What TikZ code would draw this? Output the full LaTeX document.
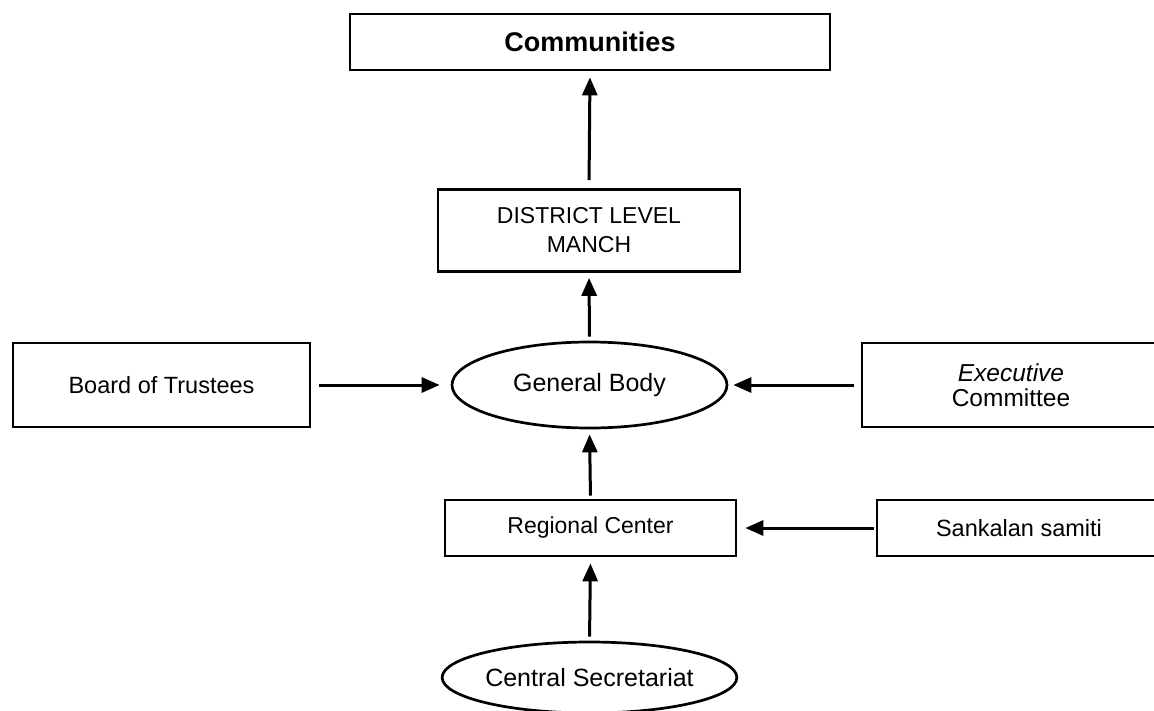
\documentclass[tikz,border=0pt]{standalone}
\usepackage{fontspec}
\setmainfont{Liberation Sans}
\usetikzlibrary{shapes.geometric,arrows.meta}
\tikzset{
  box/.style={draw, line width=2.7pt, inner sep=0pt, align=center, fill=white},
  oval/.style={draw, ellipse, line width=2.7pt, inner sep=0pt, align=center},
  link/.style={line width=3pt, -{Triangle[length=18pt,width=15pt]}}
}
\begin{document}
\begin{tikzpicture}[x=1pt,y=-1pt]
\clip (0,0) rectangle (1154,710);
\fill[white] (0,0) rectangle (1154,710);
\node[box, minimum width=480pt, minimum height=56pt, font=\fontsize{27}{32}\selectfont\bfseries] (comm) at (590,42) {Communities};
\node[box, minimum width=302pt, minimum height=82pt, font=\fontsize{23}{29}\selectfont] (dist) at (589,230.5) {DISTRICT LEVEL\\MANCH};
\node[oval, minimum width=275pt, minimum height=86pt, font=\fontsize{25}{30}\selectfont] (gb) at (589.5,385) {General Body};
\node[box, minimum width=297pt, minimum height=84pt, font=\fontsize{23.5}{28}\selectfont] (bot) at (161.5,385) {Board of Trustees};
\node[box, minimum width=298pt, minimum height=84pt, font=\fontsize{24.5}{25}\selectfont] (exec) at (1011,385) {\itshape Executive\\Committee};
\node[box, minimum width=291pt, minimum height=56pt, font=\fontsize{23}{28}\selectfont] (rc) at (590.5,528) {Regional Center};
\node[box, minimum width=284pt, minimum height=56pt, font=\fontsize{23.5}{28}\selectfont] (sank) at (1019,528) {Sankalan samiti};
\node[oval, minimum width=275pt, minimum height=71pt, font=\fontsize{25}{30}\selectfont] (cs) at (589.5,677.5) {Central Secretariat};
\draw[link, shorten <=8pt, shorten >=6pt] (dist.north) -- (comm.south);
\draw[link, shorten <=4pt, shorten >=5pt] (gb.north) -- (dist.south);
\draw[link, shorten <=8pt, shorten >=11pt] (bot.east) -- (gb.west);
\draw[link, shorten <=7pt, shorten >=5pt] (exec.west) -- (gb.east);
\draw[link, shorten <=3pt, shorten >=5pt] (rc.north) -- (gb.south);
\draw[link, shorten <=2pt, shorten >=8pt] (sank.west) -- (rc.east);
\draw[link, shorten <=4pt, shorten >=6pt] (cs.north) -- (rc.south);
\end{tikzpicture}
\end{document}
